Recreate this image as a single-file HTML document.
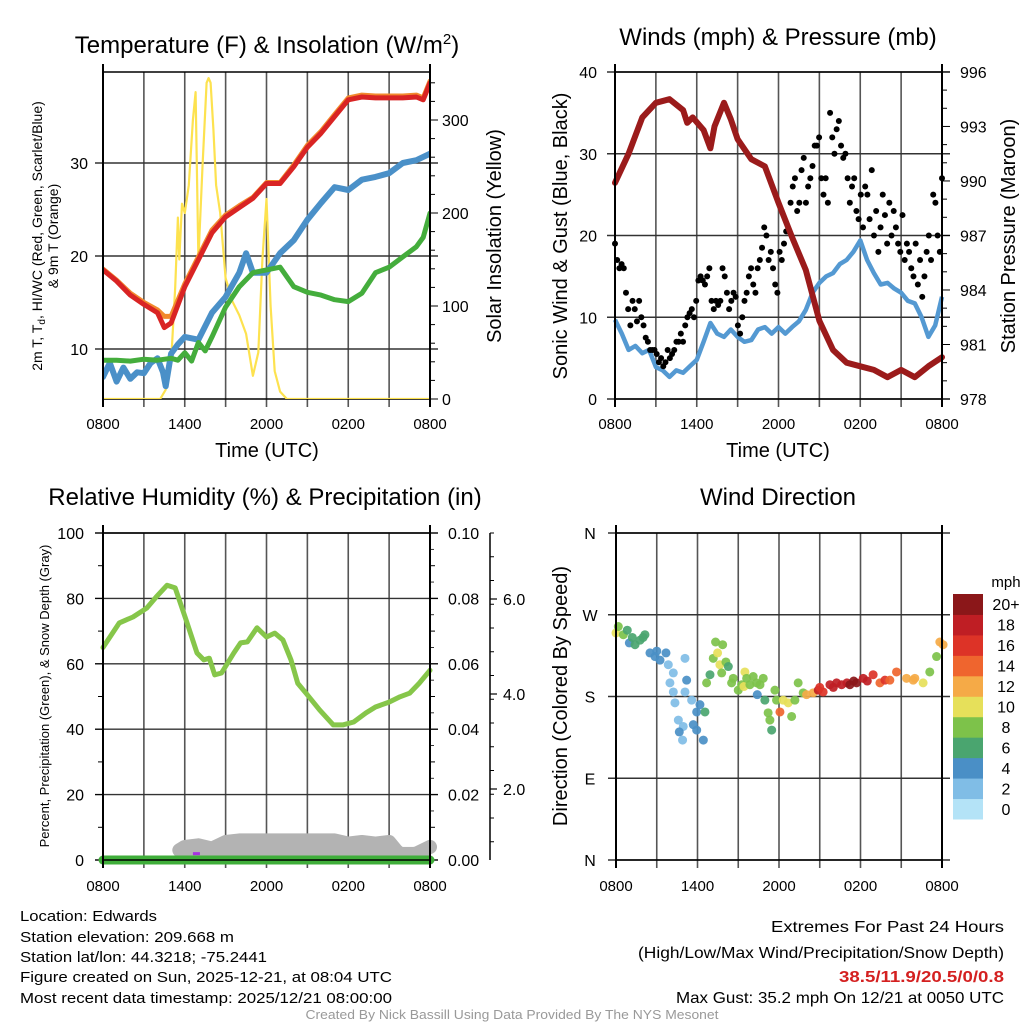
<!DOCTYPE html>
<html><head><meta charset="utf-8"><style>
html,body{margin:0;padding:0;background:#fff;}
svg{display:block;font-family:"Liberation Sans",sans-serif;}
</style></head><body>
<svg id="chart" width="1024" height="1024" viewBox="0 0 1024 1024" xmlns="http://www.w3.org/2000/svg">
<rect width="1024" height="1024" fill="#fff"/>
<g id="root"></g>
</svg>
<script>
// ---------- DATA ----------
const xTickLabels = ["0800","1400","2000","0200","0800"];
// Temperature panel
const tempHours = [0,1,2,3,4,4.5,5,6,7,8,9,10,11,12,13,14,15,16,17,18,19,20,21,22,23,23.5,24];
const tempRed   = [18.5,17.3,15.8,14.8,13.9,12.3,12.8,16.7,19.6,22.5,24.2,25.2,26.2,27.8,27.8,29.6,31.7,33.2,35,36.8,37.1,37,37,37,37.1,36.8,38.6];
const tempOrange= [18.6,17.4,16.0,15.0,14.2,13.5,13.5,17.0,19.9,22.8,24.4,25.4,26.3,27.9,27.9,29.8,31.9,33.4,35.2,37.0,37.3,37.2,37.2,37.2,37.3,37.0,38.8];
const dewHours  = [0,1,2,3,4,5,5.5,6,6.5,7,7.5,8,9,10,11,12,13,14,15,16,17,18,19,20,21,22,23,23.5,24];
const dewGreen  = [8.8,8.8,8.7,8.9,8.8,9.0,8.8,9.6,8.7,10.7,9.8,11.3,14.5,16.7,18.2,18.5,18.8,16.7,16.1,15.8,15.3,15.1,16,18.2,18.8,19.9,21,22,24.6];
const wcHours   = [0,0.5,1,1.5,2,2.5,3,3.5,4,4.4,4.6,5,5.5,6,7,8,9,10,10.5,11,12,13,14,15,16,17,18,19,20,21,22,23,24];
const wcBlue    = [7.0,8.5,6.5,8.0,6.8,7.5,7.4,8.5,9.0,7.5,6.0,9.5,10.5,11.3,11.0,13.9,15.6,18.2,20.3,18.2,18.2,20.3,21.7,23.9,25.7,27.4,27.1,28.2,28.5,28.9,30,30.3,31];
const solHours  = [0,4.2,4.6,5,5.3,5.5,5.6,5.8,6,6.3,6.6,6.8,7.0,7.3,7.6,7.75,7.9,8.1,8.3,8.6,9,9.5,10,10.5,11,11.4,11.7,12,12.3,12.6,13,13.5,24];
const solVals   = [0,0,10,40,120,195,150,210,200,230,300,330,150,250,340,345,340,290,230,200,130,105,90,70,25,50,150,215,100,30,8,0,0];
// Winds panel
const windHours = [0,0.5,1,1.5,2,2.5,3,3.5,4,4.5,5,5.5,6,6.5,7,7.5,8,8.5,9,9.5,10,10.5,11,11.5,12,12.5,13,13.5,14,14.5,15,15.5,16,16.5,17,17.5,18,18.5,19,19.5,20,20.5,21,21.5,22,22.5,23,23.5,24];
const windBlue  = [9.7,8,6,6.5,5.6,6,3.9,3.5,2.7,3.5,3.2,4,4.8,7,9.3,8,7.6,8.5,7.6,7,7.2,8.5,8.8,8,8.8,8,8.8,9.5,10.9,13,14.2,15,15.4,16.5,17,18,19.4,17,15.4,14,14.2,13.5,13,12,11.7,10,7.6,9,12.5];
const gustVals  = [19,17,16,16.5,16,13,11,9,12,11,9.5,12,10,9,7.5,7,6,6,6,5.5,4.5,5,4,4.5,6,5,5.5,6,7,7,8,7,9,10,10.5,11,10,12,14.5,15,14.5,14,15,16,12,11,12,11.5,12,16,15,13,11,12,13,12.5,9,8,10,12,13,15,16,14,13,16,17,18.5,21,20,17,18,16,14,13,18,17,19,20.5,20.5,24,26,27,23,24,28,29.5,24,26,27,28.5,31,31,32,27,25,27,24,35,32,30,33,34,31,29.5,30,27,24,26,27,23,22,25,21,26,25,22,28,20,23,18,21,25,22.5,19,24,20,23,21,19,18,22.5,17,19,18,16,15,19,14,17,12.5,15,18,20,17,25,24,20,18,27];
const presHours = [0,1,2,3,4,5,5.3,5.7,6.5,7,7.3,8,8.5,9,10,11,12,13,14,15,16,17,18,19,20,21,22,23,24];
const presVals  = [989.9,991.5,993.5,994.3,994.5,993.9,993.2,993.5,992.8,991.8,993,994.3,993.4,992.3,991.2,990.8,988.8,986.9,985.1,982.3,980.7,980,979.8,979.6,979.2,979.6,979.2,979.8,980.3];
// RH panel
const rhHours = [0,1.2,2.2,3.2,3.9,4.7,5.3,6.1,6.9,7.4,7.8,8.2,8.7,9.6,10.1,10.6,11.3,12,12.6,13.2,13.8,14.3,14.9,15.9,16.9,17.6,18.4,19.3,20,21,21.8,22.5,23.2,24];
const rhVals  = [65,72.5,74.3,77,80.4,84,83.2,73.4,63.3,61.2,61.7,56.6,57.2,63.3,66.4,66.7,71,68.2,69.4,67.3,61.2,54,51,45.9,41.3,41.3,42.2,45,46.8,48.3,49.9,51,54,58];
const snowHours = [5.6,6,7,8,9,10,12,14,17,18,19,20,21,21.5,22,23,24];
const snowVals  = [3,4,4.5,3.5,5.5,6,6,6,6,5,5.5,5,5.5,3,1,2,4];
const precipHours = [0,24];
const precipVals  = [0,0];
// Wind direction panel
const dirHours = [0,0.17,0.54,0.83,0.98,1.2,1.4,1.77,2.0,2.13,2.5,2.87,3.0,3.24,3.68,3.85,4.22,3.97,4.22,4.34,5.08,5.2,5.08,5.57,5.94,6.18,6.55,4.59,4.95,5.69,5.94,6.43,4.9,4.66,6.67,6.92,7.16,7.33,7.85,7.48,7.65,7.78,8.09,8.27,8.51,8.63,9.0,9.25,9.49,9.42,9.62,9.86,10.1,10.35,10.4,10.6,10.84,10.96,11.2,11.33,11.46,11.7,11.82,12.07,12.31,12.68,12.93,13.17,13.41,13.78,14.03,14.52,14.89,15.0,15.25,15.75,16.0,16.24,16.61,17.0,17.22,17.5,17.71,18.2,18.5,18.93,19.43,19.8,20.16,20.65,21.39,21.88,22.0,22.61,23.1,23.6,23.84,24.08];
const dirDeg   = [250,257,248,253,239,245,237,242,245,248,228,224,230,220,228,215,206,195,185,173,222,198,185,176,163,171,163,154,147,149,143,132,132,141,195,204,222,240,237,228,215,206,218,213,195,200,187,193,207,191,200,193,202,195,182,193,200,176,162,154,143,187,176,163,176,173,158,176,195,184,182,184,187,190,185,193,190,195,193,195,193,197,195,200,197,204,195,198,198,207,200,198,200,195,207,224,240,237];
const dirSpeed = [10,8,8,6,4,6,6,6,6,6,4,4,4,4,4,2,2,2,2,2,2,4,2,2,4,4,6,2,2,4,4,4,2,4,7,6,8,8,8,10,10,7,7,6,8,8,7,7,10,10,8,7,8,7,4,7,7,6,7,8,6,8,8,13,10,10,8,8,8,8,12,12,17,16,16,17,17,18,17,18,20,20,20,17,17,16,14,15,14,13,12,12,11,10,8,8,12,12];
const cbLabels = ["0","2","4","6","8","10","12","14","16","18","20+"];
const cbColors = ["#b4e3f7","#80bde6","#4a8fc6","#4aa56f","#7dc24a","#e6e05a","#f5aa47","#ef652e","#dd3327","#bf1e24","#8b1719"];

// ---------- HELPERS ----------
const NS="http://www.w3.org/2000/svg";
const root=document.getElementById('root');
function mk(tag,attrs,parent){const e=document.createElementNS(NS,tag);for(const k in attrs)e.setAttribute(k,attrs[k]);(parent||root).appendChild(e);return e;}
function txt(x,y,s,size,anchor,parent,extra){const t=mk('text',Object.assign({x:x,y:y,'font-size':size,'text-anchor':anchor||'middle',fill:'#000'},extra||{}),parent);t.textContent=s;return t;}
function line(x1,y1,x2,y2,stroke,w,parent){return mk('line',{x1:x1,y1:y1,x2:x2,y2:y2,stroke:stroke,'stroke-width':w},parent);}
function pathFrom(hs,vs,xf,yf){let d='';for(let i=0;i<hs.length;i++){d+=(i?'L':'M')+xf(hs[i]).toFixed(1)+','+yf(vs[i]).toFixed(1);}return d;}

function frame(g,x0,x1,yT,yB,hLines,tickLabY){
  for(let i=0;i<=8;i++){const x=x0+(x1-x0)*i/8;line(x,yT,x,yB+8,(i==0||i==8)?'#000':'#555',(i==0||i==8)?2:1.6,g);}
  hLines.forEach(y=>line(x0-8,y,x1+8,y,'#333',1.4,g));
  line(x0,yT,x1,yT,'#000',1.4,g);line(x0,yB,x1,yB,'#000',1.4,g);
  xTickLabels.forEach((s,i)=>{txt(x0+(x1-x0)*i/4,tickLabY,s,15,'middle',g);});
}

// ---------- PANEL 1: Temperature ----------
(function(){
const g=mk('g',{});
const x0=103,x1=430,yT=72,yB=399;
const xs=h=>x0+h*(x1-x0)/24, yt=v=>349-(v-10)*9.3, ys=v=>399-v*0.93;
const ttl=txt(267,53,'',24,'middle',g);
ttl.innerHTML='Temperature (F) &amp; Insolation (W/m<tspan dy="-9" font-size="15">2</tspan><tspan dy="9">)</tspan>';
frame(g,x0,x1,yT,yB,[yt(10),yt(20),yt(30)],429);
[10,20,30].forEach(v=>txt(88,yt(v)+6,String(v),16,'end',g));
for(let v=0;v<=340;v+=20){line(x1,ys(v),x1+(v%100==0?8:5),ys(v),'#000',1,g);}
[0,100,200,300].forEach(v=>txt(442,ys(v)+6,String(v),16,'start',g));
const yl=mk('text',{transform:'translate(42,236) rotate(-90)','font-size':14,'text-anchor':'middle'},g);yl.innerHTML='2m T, T<tspan font-size="10" dy="3">d</tspan><tspan dy="-3">, HI/WC (Red, Green, Scarlet/Blue)</tspan>';

txt(0,0,'& 9m T (Orange)',14,'middle',g,{transform:'translate(58,236) rotate(-90)'});
const yr=txt(0,0,'Solar Insolation (Yellow)',20,'middle',g,{transform:'translate(501,236) rotate(-90)'});
const xt=txt(267,457,'Time (UTC)',20,'middle',g);
const defs=mk('clipPath',{id:'c1'},g);mk('rect',{x:x0,y:yT,width:x1-x0,height:yB-yT},defs);
const pg=mk('g',{'clip-path':'url(#c1)'},g);
const s1=mk('path',{d:pathFrom(solHours,solVals,xs,ys),fill:'none',stroke:'#fde24f','stroke-width':2.2,'stroke-linejoin':'round'},pg);
const s2=mk('path',{d:pathFrom(wcHours,wcBlue,xs,yt),fill:'none',stroke:'#4a90c8','stroke-width':6,'stroke-linejoin':'round','stroke-linecap':'round'},pg);
const s3=mk('path',{d:pathFrom(dewHours,dewGreen,xs,yt),fill:'none',stroke:'#44ad3c','stroke-width':5,'stroke-linejoin':'round','stroke-linecap':'round'},pg);
const s4=mk('path',{d:pathFrom(tempHours,tempOrange,xs,yt),fill:'none',stroke:'#f28a2e','stroke-width':5,'stroke-linejoin':'round','stroke-linecap':'round'},pg);
const s5=mk('path',{d:pathFrom(tempHours,tempRed,xs,yt),fill:'none',stroke:'#d92424','stroke-width':5,'stroke-linejoin':'round','stroke-linecap':'round'},pg);
line(x0,yT-8,x0,yB+8,'#000',2,g);line(x1,yT-8,x1,yB+8,'#000',2,g);
})();

// ---------- PANEL 2: Winds ----------
(function(){
const g=mk('g',{});
const x0=615,x1=942,yT=72,yB=399;
const xs=h=>x0+h*(x1-x0)/24, yw=v=>399-v*8.175, yp=p=>399-(p-978)*18.17;
const ttl=txt(778,45,'Winds (mph) & Pressure (mb)',24,'middle',g);
frame(g,x0,x1,yT,yB,[yw(0),yw(10),yw(20),yw(30),yw(40)],429);
[0,10,20,30,40].forEach(v=>txt(597,yw(v)+6,String(v),16,'end',g));
for(let p=978;p<=996;p++){line(x1,yp(p),x1+((p-978)%3==0?8:5),yp(p),'#000',1,g);}
[978,981,984,987,990,993,996].forEach(p=>txt(960,yp(p)+6,String(p),16,'start',g));
const yl=txt(0,0,'Sonic Wind & Gust (Blue, Black)',20,'middle',g,{transform:'translate(567,236) rotate(-90)'});
const yr=txt(0,0,'Station Pressure (Maroon)',20,'middle',g,{transform:'translate(1015,236) rotate(-90)'});
const xt=txt(778,457,'Time (UTC)',20,'middle',g);
const w=mk('path',{d:pathFrom(windHours,windBlue,xs,yw),fill:'none',stroke:'#5499d2','stroke-width':4.5,'stroke-linejoin':'round'},g);
const n=gustVals.length;
gustVals.forEach((v,i)=>{const c=mk('circle',{cx:xs(24*i/(n-1)),cy:yw(v),r:3,fill:'#000'},g);

});
const p=mk('path',{d:pathFrom(presHours,presVals,xs,yp),fill:'none',stroke:'#9b1b1b','stroke-width':6,'stroke-linejoin':'round','stroke-linecap':'round'},g);
line(x0,yT-8,x0,yB+8,'#000',2,g);line(x1,yT-8,x1,yB+8,'#000',2,g);
})();

// ---------- PANEL 3: RH ----------
(function(){
const g=mk('g',{});
const x0=103,x1=430,yT=533,yB=860;
const xs=h=>x0+h*(x1-x0)/24, yr=v=>860-v*3.27;
const ttl=txt(265,505,'Relative Humidity (%) & Precipitation (in)',24,'middle',g);
frame(g,x0,x1,yT,yB,[yr(0),yr(20),yr(40),yr(60),yr(80),yr(100)],891);
for(let v=0;v<=100;v+=10){line(x0-(v%20==0?8:5),yr(v),x0,yr(v),'#000',1,g);line(x1,yr(v),x1+(v%20==0?8:5),yr(v),'#000',1,g);}
for(let v=5;v<100;v+=10){line(x1,yr(v),x1+4,yr(v),'#000',0.8,g);}
[0,20,40,60,80,100].forEach(v=>txt(84,yr(v)+6,String(v),16,'end',g));
['0.00','0.02','0.04','0.06','0.08','0.10'].forEach((s,i)=>txt(448,yr(i*20)+6,s,16,'start',g));
line(490,533,490,860,'#000',1.5,g);
for(let y=533;y<=860;y+=23.75){line(490,y,494,y,'#000',1,g);}
[[2,789],[4,694],[6,599]].forEach(a=>{line(490,a[1],497,a[1],'#000',1.2,g);txt(503,a[1]+6,a[0].toFixed(1),16,'start',g);});
const yl=txt(0,0,'Percent, Precipitation (Green), & Snow Depth (Gray)',13,'middle',g,{transform:'translate(49,696) rotate(-90)'});
const sn=mk('path',{d:pathFrom(snowHours,snowVals,xs,yr),fill:'none',stroke:'#b3b3b3','stroke-width':14,'stroke-linejoin':'round','stroke-linecap':'round'},g);
mk('rect',{x:xs(5.6),y:yr(4),width:xs(24)-xs(5.6),height:yr(0)-yr(4),fill:'#b3b3b3'},g);
const pr=mk('path',{d:pathFrom(precipHours,precipVals,xs,yr),fill:'none',stroke:'#3fae3a','stroke-width':9,'stroke-linecap':'round'},g);
mk('rect',{x:xs(6.6),y:yr(2.4),width:7,height:3,fill:'#a733e0'},g);
const rh=mk('path',{d:pathFrom(rhHours,rhVals,xs,yr),fill:'none',stroke:'#86c64a','stroke-width':5,'stroke-linejoin':'round','stroke-linecap':'round'},g);
line(x0,yT-8,x0,yB+8,'#000',2,g);line(x1,yT-8,x1,yB+8,'#000',2,g);line(x0,yB,x1,yB,'#000',1.5,g);
})();

// ---------- PANEL 4: Wind direction ----------
(function(){
const g=mk('g',{});
const x0=616,x1=942,yT=533,yB=860;
const xs=h=>x0+h*(x1-x0)/24, yd=d=>860-d*(yB-yT)/360;
const ttl=txt(778,505,'Wind Direction',24,'middle',g);
frame(g,x0,x1,yT,yB,[yd(0),yd(90),yd(180),yd(270),yd(360)],891);
['N','E','S','W','N'].forEach((s,i)=>txt(590,yd(i*90)+6,s,16,'middle',g));
const yl=txt(0,0,'Direction (Colored By Speed)',20,'middle',g,{transform:'translate(567,696) rotate(-90)'});
dirHours.forEach((h,i)=>{const idx=Math.min(10,Math.round(dirSpeed[i]/2));
const c=mk('circle',{cx:xs(h),cy:yd(dirDeg[i]),r:4.5,fill:cbColors[idx],'fill-opacity':0.92},g);

});
line(x0,yT-8,x0,yB+8,'#000',2,g);line(x1,yT-8,x1,yB+8,'#000',2,g);
const cb=mk('g',{},g);
const bh=225/11;
cbColors.forEach((c,i)=>{const y=594+(10-i)*bh;mk('rect',{x:953,y:y,width:30,height:bh+0.5,fill:c},cb);txt(1006,y+bh/2+6,cbLabels[i],16,'middle',cb);});
txt(1006,587,'mph',15,'middle',cb);
})();

// ---------- FOOTER ----------
(function(){
const g=mk('g',{});
const L=[['Location: Edwards',921,137],['Station elevation: 209.668 m',942,214],['Station lat/lon: 44.3218; -75.2441',962,247],['Figure created on Sun, 2025-12-21, at 08:04 UTC',982,372],['Most recent data timestamp: 2025/12/21 08:00:00',1003,372]];
L.forEach(a=>txt(20,a[1],a[0],15,'start',g,{textLength:a[2],lengthAdjust:'spacingAndGlyphs'}));
const R=[['Extremes For Past 24 Hours',932,233,'#000','normal'],['(High/Low/Max Wind/Precipitation/Snow Depth)',958,366,'#000','normal'],['38.5/11.9/20.5/0/0.8',982,165,'#d42020','bold'],['Max Gust: 35.2 mph On 12/21 at 0050 UTC',1003,328,'#000','normal']];
R.forEach(a=>txt(1004,a[1],a[0],16,'end',g,{textLength:a[2],lengthAdjust:'spacingAndGlyphs',fill:a[3],'font-weight':a[4]}));
txt(512,1019,'Created By Nick Bassill Using Data Provided By The NYS Mesonet',13,'middle',g,{fill:'#999',textLength:413,lengthAdjust:'spacingAndGlyphs'});
})();
</script>
</body></html>
